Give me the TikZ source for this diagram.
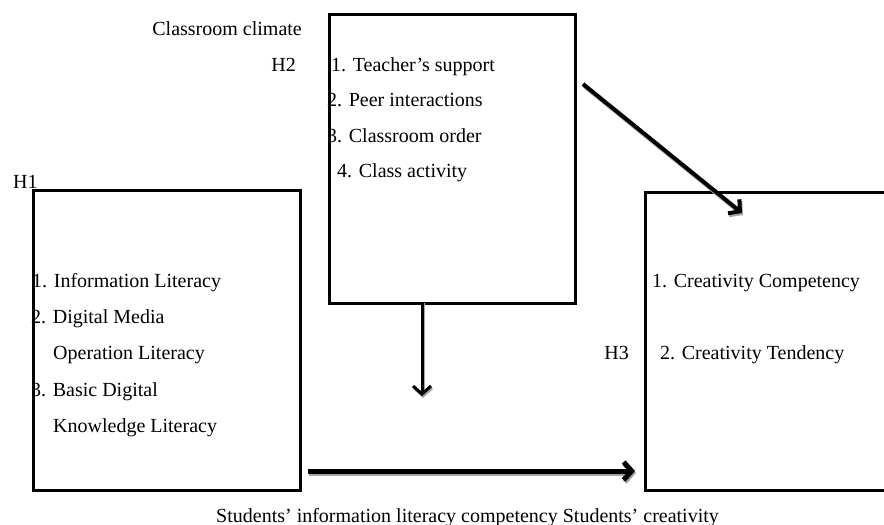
\documentclass[tikz,border=0pt]{standalone}
\usepackage{fontspec}
\setmainfont{Liberation Serif}
\usetikzlibrary{arrows.meta}
\tikzset{
  boxline/.style={draw=black, line width=3pt, rectangle, anchor=north west, inner sep=0pt},
  lbl/.style={inner sep=0pt, font=\fontsize{20}{24}\selectfont, anchor=base west},
  lblr/.style={inner sep=0pt, font=\fontsize{20}{24}\selectfont, anchor=base east},
  arr/.style={line width=#1, -{Straight Barb[length=8pt,width=18pt,line width=#1]}},
  shadowarr/.style={draw=black!35, line width=#1, -{Straight Barb[length=8pt,width=18pt,line width=#1]}}
}
\begin{document}
\begin{tikzpicture}[x=1pt,y=-1pt]
\useasboundingbox (0,0) rectangle (884,525);
\clip (0,0) rectangle (884,525);
% labels
\node[lblr] (tclimate) at (302,35) {Classroom climate};
\node[lblr] (h2) at (296,71) {H2};
\node[lbl] (c1) at (331,71) {1. Teacher’s support};
\node[lbl] (c2) at (327,106) {2. Peer interactions};
\node[lbl] (c3) at (327,142) {3. Classroom order};
\node[lbl] (c4) at (337,177) {4. Class activity};
\node[lbl] (h1) at (13,188) {H1};
\node[lbl] (l1) at (32,287) {1. Information Literacy};
\node[lbl] (l2) at (31,323) {2. Digital Media};
\node[lbl] (l2b) at (53,359) {Operation Literacy};
\node[lbl] (l3) at (31,396) {3. Basic Digital};
\node[lbl] (l3b) at (53,432) {Knowledge Literacy};
\node[lbl] (r1) at (652,287) {1. Creativity Competency};
\node[lbl] (r2) at (660,359) {2. Creativity Tendency};
\node[lblr] (h3) at (629,359) {H3};
\node[lbl] (bottom) at (216,522) {Students’ information literacy competency Students’ creativity};
% boxes
\node[boxline, minimum width=246pt, minimum height=289pt] (climate) at (328,13) {};
\node[boxline, minimum width=267pt, minimum height=300pt] (literacy) at (32,189) {};
\node[boxline, minimum width=270pt, minimum height=298pt] (creativity) at (644,191) {};
% connector coordinates
\coordinate (dstart) at (422,302);
\coordinate (dend) at (422,396);
\coordinate (hstart) at (308,471);
\coordinate (hend) at (635,471);
\coordinate (gstart) at (583,84);
\coordinate (gend) at (742,213);
\coordinate (hstartS) at (309,473);
\coordinate (hendS) at (636,473);
\coordinate (gstartS) at (584,86);
\coordinate (gendS) at (743,215);
\coordinate (dendS) at (423,398);
\coordinate (dstartS) at (423,303);
% shadows
\draw[shadowarr=3pt] (dstartS) -- (dendS);
\draw[shadowarr=5pt] (hstartS) -- (hendS);
\draw[shadowarr=4pt] (gstartS) -- (gendS);
% arrows
\draw[arr=3pt] (dstart) -- (dend);
\draw[arr=5pt] (hstart) -- (hend);
\draw[arr=4pt] (gstart) -- (gend);
\end{tikzpicture}
\end{document}
